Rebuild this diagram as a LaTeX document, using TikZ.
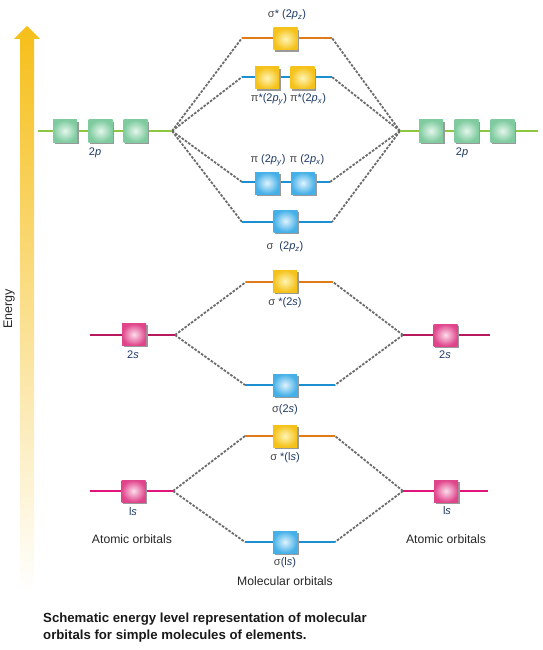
\documentclass[tikz,border=0pt]{standalone}
\usepackage{fontspec}
\setmainfont{Liberation Sans}
\usetikzlibrary{shadows}
\definecolor{gfill}{HTML}{7FCB9F}
\definecolor{gin}{HTML}{E4F6EC}
\definecolor{yfill}{HTML}{F5C21A}
\definecolor{yin}{HTML}{FFF5B5}
\definecolor{bfill}{HTML}{45B0E8}
\definecolor{bin}{HTML}{E0F3FD}
\definecolor{pfill}{HTML}{E0458C}
\definecolor{pin}{HTML}{FCDDEB}
\definecolor{gline}{HTML}{8DC63F}
\definecolor{oline}{HTML}{E07B1A}
\definecolor{bline}{HTML}{1C8FD0}
\definecolor{mline}{HTML}{E0147A}
\definecolor{sline}{HTML}{B8185C}
\definecolor{lblcol}{HTML}{1E3A66}
\definecolor{grk}{HTML}{444444}
\newcommand\sgm{{\color{grk}σ}}
\newcommand\pim{{\color{grk}π}}
\newcommand\sub[1]{\textsubscript{\textit{#1}}}
\tikzset{
  orb/.style={minimum width=24pt,minimum height=22pt,inner sep=0pt,shading=radial,
    drop shadow={shadow xshift=1.6pt,shadow yshift=-1.6pt,fill=black!40,opacity=1}},
  gbox/.style={orb,inner color=gin,outer color=gfill},
  ybox/.style={orb,inner color=yin,outer color=yfill},
  bbox/.style={orb,inner color=bin,outer color=bfill},
  pbox/.style={orb,inner color=pin,outer color=pfill},
  lvl/.style={line width=1.1pt},
  conn/.style={draw=black!58,line width=1.8pt,dash pattern=on 2.6pt off 1.4pt},
  lbl/.style={font=\fontsize{11}{13}\selectfont,text=lblcol,inner sep=0pt},
  plain/.style={font=\fontsize{12.2}{14}\selectfont,text=black!85,inner sep=0pt},
}
\begin{document}
\begin{tikzpicture}[x=1pt,y=-1pt]
\useasboundingbox (0,0) rectangle (543,650);
% energy arrow
\shade[top color=yfill!95!orange,middle color=yfill!60,bottom color=white]
  (20,592) -- (20,39) -- (14,39) -- (27,26) -- (40,39) -- (34,39) -- (34,592) -- cycle;
\node[rotate=90,font=\fontsize{12.5}{14}\selectfont,text=black!85] (energy) at (9,309) {Energy};

% ---- coordinates of level ends
\coordinate (l2pa) at (38,131);  \coordinate (l2pb) at (172,131);
\coordinate (r2pa) at (400,131); \coordinate (r2pb) at (538,131);
\coordinate (ssa) at (242,38);   \coordinate (ssb) at (332,38);
\coordinate (psa) at (242,77);   \coordinate (psb) at (332,77);
\coordinate (pa) at (242,182);   \coordinate (pb) at (330,182);
\coordinate (sa) at (242,222);   \coordinate (sb) at (332,222);
\coordinate (s2sa) at (246,282); \coordinate (s2sb) at (333,282);
\coordinate (l2sa) at (90,335);  \coordinate (l2sb) at (175,335);
\coordinate (r2sa) at (403,335); \coordinate (r2sb) at (490,335);
\coordinate (b2sa) at (245,385); \coordinate (b2sb) at (335,385);
\coordinate (s1sa) at (245,436); \coordinate (s1sb) at (335,436);
\coordinate (l1sa) at (90,491);  \coordinate (l1sb) at (173,491);
\coordinate (r1sa) at (403,491); \coordinate (r1sb) at (488,491);
\coordinate (b1sa) at (245,542); \coordinate (b1sb) at (335,542);

% ---- dashed connectors
\foreach \t in {ssa,psa,pa,sa} \draw[conn] (l2pb) -- (\t);
\foreach \t in {ssb,psb,pb,sb} \draw[conn] (r2pa) -- (\t);
\foreach \t in {s2sa,b2sa} \draw[conn] (l2sb) -- (\t);
\foreach \t in {s2sb,b2sb} \draw[conn] (r2sa) -- (\t);
\foreach \t in {s1sa,b1sa} \draw[conn] (l1sb) -- (\t);
\foreach \t in {s1sb,b1sb} \draw[conn] (r1sa) -- (\t);

% ---- level lines
\draw[lvl,gline] (l2pa) -- (l2pb);
\draw[lvl,gline] (r2pa) -- (r2pb);
\draw[lvl,oline] (ssa) -- (ssb);
\draw[lvl,bline] (psa) -- (psb);
\draw[lvl,bline] (pa) -- (pb);
\draw[lvl,bline] (sa) -- (sb);
\draw[lvl,oline] (s2sa) -- (s2sb);
\draw[lvl,sline] (l2sa) -- (l2sb);
\draw[lvl,sline] (r2sa) -- (r2sb);
\draw[lvl,bline] (b2sa) -- (b2sb);
\draw[lvl,oline] (s1sa) -- (s1sb);
\draw[lvl,mline] (l1sa) -- (l1sb);
\draw[lvl,mline] (r1sa) -- (r1sb);
\draw[lvl,bline] (b1sa) -- (b1sb);

% ---- boxes
\node[gbox] (lp1) at (65,131) {};
\node[gbox] (lp2) at (100.5,131) {};
\node[gbox] (lp3) at (135.5,131) {};
\node[gbox] (rp1) at (431,131) {};
\node[gbox] (rp2) at (466.5,131) {};
\node[gbox] (rp3) at (502.5,131) {};
\node[ybox] (ss) at (285.5,39) {};
\node[ybox] (ps1) at (267,78) {};
\node[ybox] (ps2) at (302.5,78) {};
\node[bbox] (p1) at (267,183) {};
\node[bbox] (p2) at (303,183) {};
\node[bbox] (s) at (285.5,221) {};
\node[ybox] (s2s) at (285,281) {};
\node[pbox] (l2s) at (134,334.5) {};
\node[pbox] (r2s) at (445.5,335) {};
\node[bbox] (b2s) at (285,385) {};
\node[ybox] (s1s) at (285,436) {};
\node[pbox] (l1s) at (133.5,491) {};
\node[pbox] (r1s) at (446,491) {};
\node[bbox] (b1s) at (285,542) {};

% ---- labels
\node[lbl] (tss) at (287,15) {\sgm* (2\textit{p}\sub{z})};
\node[lbl] (tps1) at (269,99) {\pim*(2\textit{p}\sub{y})};
\node[lbl] (tps2) at (308,99) {\pim*(2\textit{p}\sub{x})};
\node[lbl] (tp1) at (268,160) {\pim\ (2\textit{p}\sub{y})};
\node[lbl] (tp2) at (307,160) {\pim\ (2\textit{p}\sub{x})};
\node[lbl] (ts) at (285,247) {\sgm\ \ (2\textit{p}\sub{z})};
\node[lbl] (tlp) at (95,153) {2\textit{p}};
\node[lbl] (trp) at (462,153) {2\textit{p}};
\node[lbl] (ts2s) at (285,303) {\sgm\ *(2\textit{s})};
\node[lbl] (tl2s) at (133,355) {2\textit{s}};
\node[lbl] (tr2s) at (445,355) {2\textit{s}};
\node[lbl] (tb2s) at (285,410) {\sgm(2\textit{s})};
\node[lbl] (ts1s) at (285,458) {\sgm\ *(l\textit{s})};
\node[lbl] (tl1s) at (133,512) {l\textit{s}};
\node[lbl] (tr1s) at (447,511) {l\textit{s}};
\node[lbl] (tb1s) at (285,563) {\sgm(l\textit{s})};
\node[plain] (aol) at (132,539) {Atomic orbitals};
\node[plain] (aor) at (446,539) {Atomic orbitals};
\node[plain] (mo) at (285,581) {Molecular orbitals};

% ---- caption
\node[anchor=north west,align=left,inner sep=0pt,font=\bfseries\fontsize{13.2}{17}\selectfont,text=black!90] (cap) at (43,613)
  {Schematic energy level representation of molecular\\orbitals for simple molecules of elements.};
\end{tikzpicture}
\end{document}
